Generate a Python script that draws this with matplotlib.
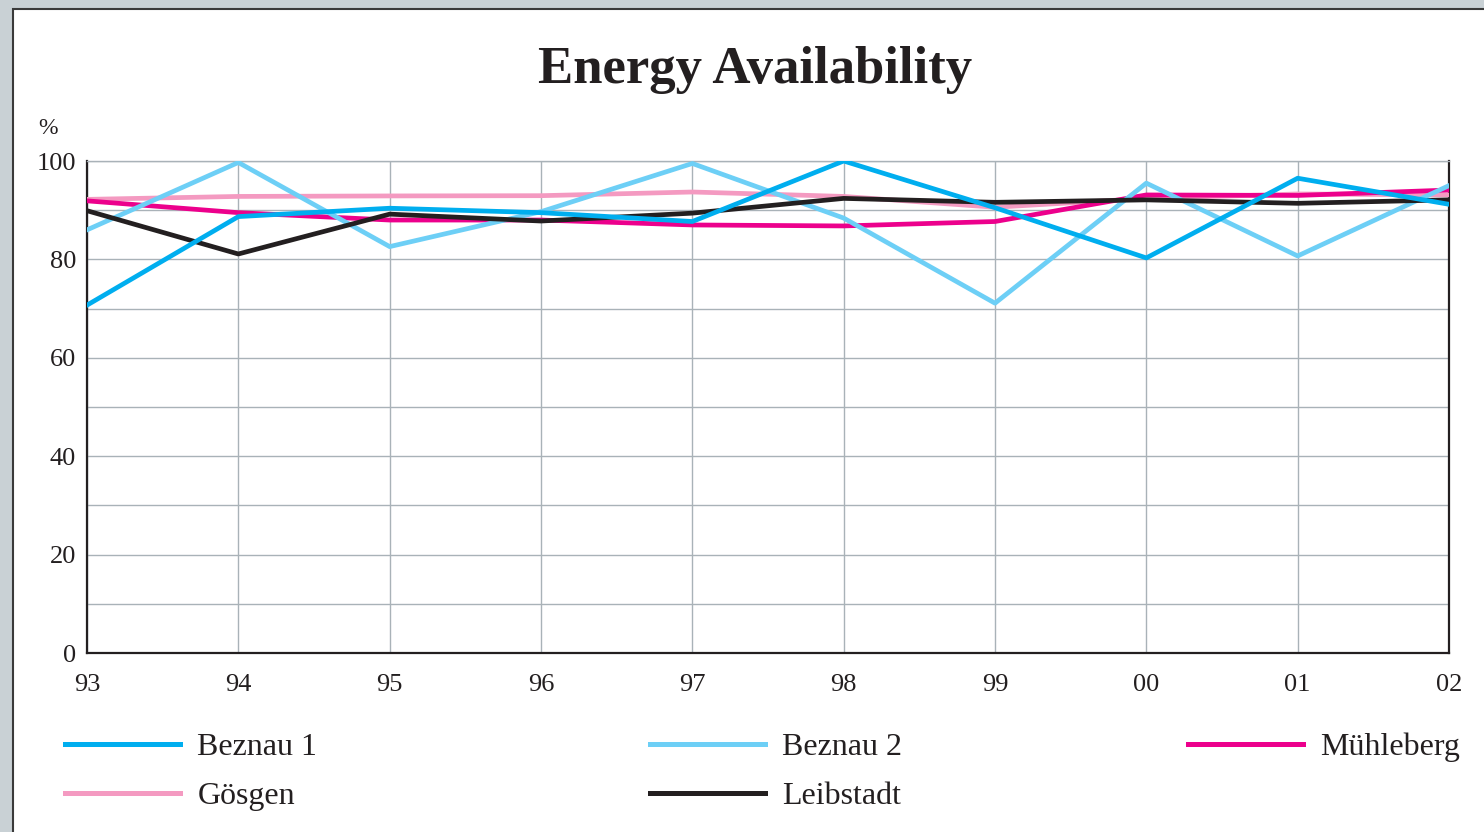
import matplotlib.pyplot as plt
from matplotlib.patches import Rectangle
from matplotlib.lines import Line2D

years = ['93', '94', '95', '96', '97', '98', '99', '00', '01', '02']
beznau1 = [70.7, 88.7, 90.4, 89.5, 87.7, 100.0, 90.5, 80.3, 96.5, 91.2]
beznau2 = [86.0, 99.7, 82.6, 89.7, 99.5, 88.4, 71.1, 95.5, 80.7, 95.0]
muehleberg = [91.9, 89.5, 88.0, 88.0, 87.0, 86.8, 87.7, 93.1, 93.0, 94.1]
goesgen = [92.2, 92.8, 92.9, 92.95, 93.7, 92.8, 90.6, 92.4, 93.3, 93.1]
leibstadt = [89.9, 81.1, 89.2, 87.8, 89.4, 92.4, 91.6, 92.1, 91.4, 92.1]

c_b1 = '#00aeef'
c_b2 = '#6dcff6'
c_mu = '#ec008c'
c_go = '#f49ac1'
c_le = '#231f20'

plt.rcParams['font.family'] = ['Liberation Serif', 'DejaVu Serif']

fig = plt.figure(figsize=(14.84, 8.32), dpi=100)
fig.patch.set_facecolor('#c9d1d5')
# white page with dark edge
fig.patches.append(Rectangle((13 / 1484, -0.1), 1.2, 1 - 9 / 832 + 0.1,
                             transform=fig.transFigure, facecolor='white',
                             edgecolor='#3a3a3a', linewidth=1.5, zorder=-5))

ax = fig.add_axes([87 / 1484, 1 - 653 / 832, (1449 - 87) / 1484, (653 - 161) / 832])
ax.set_zorder(2)
x = list(range(len(years)))
lw = 3.4
ax.plot(x, goesgen, color=c_go, lw=lw, zorder=3)
ax.plot(x, muehleberg, color=c_mu, lw=lw, zorder=4)
ax.plot(x, beznau2, color=c_b2, lw=lw, zorder=5)
ax.plot(x, leibstadt, color=c_le, lw=lw, zorder=6)
ax.plot(x, beznau1, color=c_b1, lw=lw, zorder=7)

ax.set_xlim(0, 9)
ax.set_ylim(0, 100)
ax.set_xticks(x)
ax.set_xticklabels(years)
ax.set_yticks(range(0, 101, 20))
ax.set_yticks(range(10, 100, 20), minor=True)
ax.tick_params(axis='both', which='both', length=0, labelsize=19, colors='#231f20')
ax.tick_params(axis='x', pad=15)
ax.tick_params(axis='y', pad=8)
ax.grid(True, which='both', color='#a9b2b8', lw=1.0, zorder=1)
for s in ['left', 'bottom', 'right']:
    ax.spines[s].set_color('#231f20')
    ax.spines[s].set_linewidth(1.6)
ax.spines['top'].set_color('#a9b2b8')
ax.spines['top'].set_linewidth(1.0)

fig.text(0.5085, 1 - 70 / 832, 'Energy Availability', ha='center', va='center',
         fontsize=38, fontweight='bold', color='#231f20')
fig.text(38 / 1484, 1 - 128 / 832, '%', ha='left', va='center', fontsize=17,
         color='#231f20')

# legend, three columns placed like the original
cols = [
    [(c_b1, 'Beznau 1'), (c_go, 'Gösgen')],
    [(c_b2, 'Beznau 2'), (c_le, 'Leibstadt')],
    [(c_mu, 'Mühleberg')],
]
col_x = [52, 637, 1175]
for cx, entries in zip(col_x, cols):
    handles = [Line2D([], [], color=c, lw=3.6) for c, _ in entries]
    labels = [l for _, l in entries]
    fig.legend(handles, labels, loc='upper left',
               bbox_to_anchor=(cx / 1484, 1 - 720 / 832), frameon=False,
               fontsize=23, handlelength=3.6, handletextpad=0.55,
               labelspacing=0.62, borderaxespad=0, labelcolor='#231f20')

fig.savefig('out.png', dpi=100, facecolor=fig.get_facecolor())
